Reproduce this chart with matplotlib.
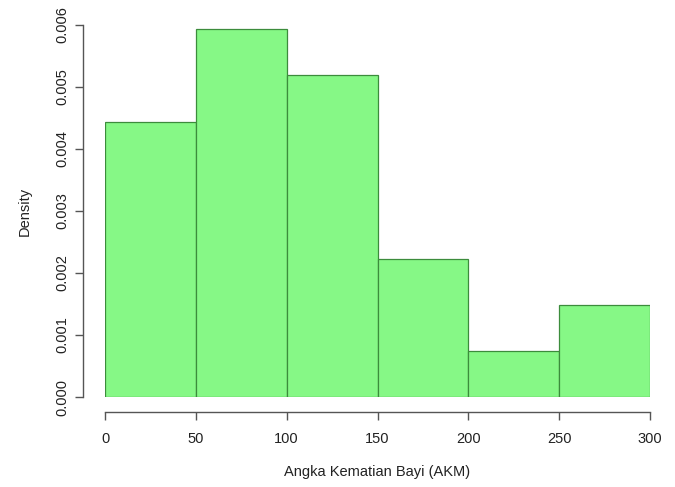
import numpy as np
import matplotlib.pyplot as plt

plt.rcParams['font.family'] = ['Liberation Sans', 'DejaVu Sans']

# histogram bins and densities
bin_edges = [0, 50, 100, 150, 200, 250, 300]
densities = [0.00444, 0.00593, 0.00519, 0.00222, 0.00074, 0.00148]
x_ticks = [0, 50, 100, 150, 200, 250, 300]
y_ticks = [0.000, 0.001, 0.002, 0.003, 0.004, 0.005, 0.006]

W, H = 675, 487
fig = plt.figure(figsize=(W / 100, H / 100), dpi=100)
ax = fig.add_axes([105 / W, (H - 397) / H, 545 / W, 372 / H])

left = np.array(bin_edges[:-1])
widths = np.diff(bin_edges)
ax.bar(left, densities, width=widths, align="edge",
       color="#86F886", edgecolor="#3C8C3C", linewidth=0.9)

ax.set_xlim(0, 300)
ax.set_ylim(0, 0.006)

for s in ["top", "right"]:
    ax.spines[s].set_visible(False)
ax.spines["bottom"].set_position(("outward", 11))
ax.spines["left"].set_position(("outward", 16))
ax.spines["bottom"].set_bounds(0, 300)
ax.spines["left"].set_bounds(0, 0.006)
for s in ["bottom", "left"]:
    ax.spines[s].set_color("#555555")
    ax.spines[s].set_linewidth(1.0)

ax.set_xticks(x_ticks)
ax.set_xticklabels([str(t) for t in x_ticks])
ax.set_yticks(y_ticks)
ax.set_yticklabels([f"{t:.3f}" for t in y_ticks], rotation=90, va="center")
ax.tick_params(axis="both", length=6, width=1.0, color="#555555",
               labelsize=10.5, labelcolor="#222222")
ax.tick_params(axis="x", pad=8)
ax.tick_params(axis="y", pad=4)

ax.set_xlabel("Angka Kematian Bayi (AKM)", fontsize=10.5, color="#222222", labelpad=14)
ax.set_ylabel("Density", fontsize=10.5, color="#222222", labelpad=17)

fig.savefig("out.png", dpi=100)
